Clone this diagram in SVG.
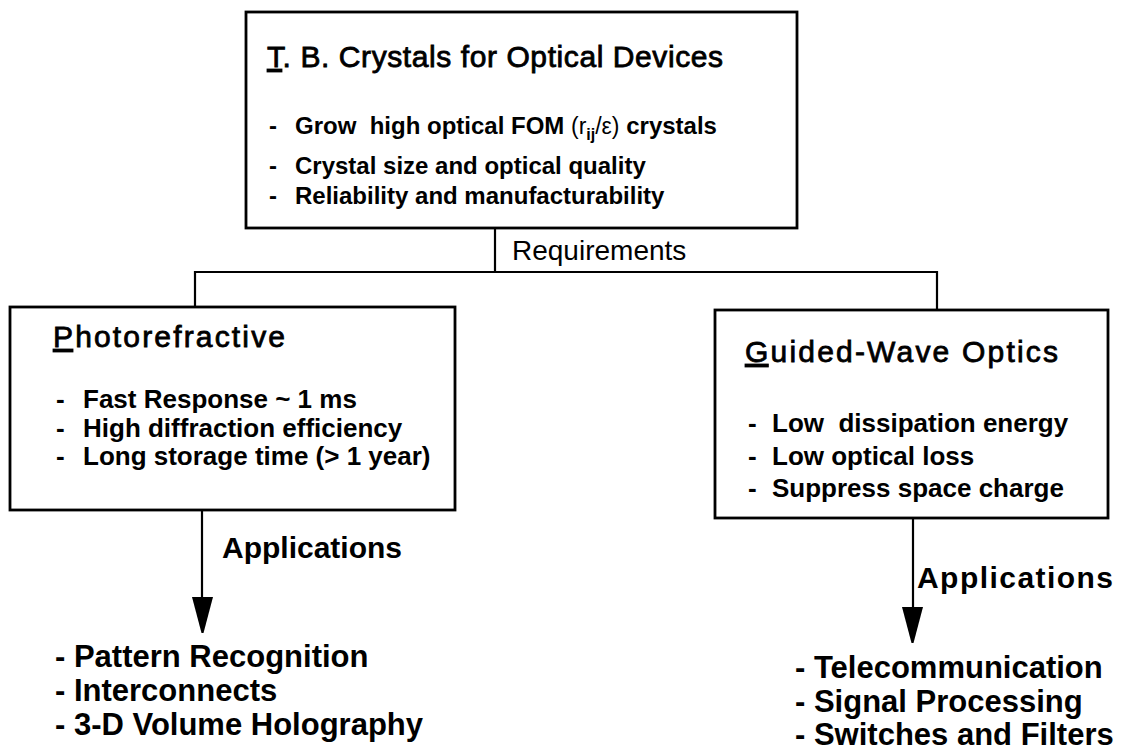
<svg xmlns="http://www.w3.org/2000/svg" width="1128" height="751" viewBox="0 0 1128 751">
<style>
  text { font-family: "Liberation Sans", Arial, Helvetica, sans-serif; fill: #000; white-space: pre; }
  .title { font-size: 30px; font-weight: normal; stroke: #000; stroke-width: 0.8px; }
  .b24 { font-size: 24px; font-weight: bold; }
  .b26 { font-size: 26px; font-weight: bold; }
  .lab { font-size: 30px; font-weight: bold; }
  .req { font-size: 28px; }
  .list { font-size: 31px; font-weight: bold; }
  .thin { font-weight: normal; font-size: 23px; }
  .box { fill: #fff; stroke: #000; stroke-width: 2.8; }
  .conn { fill: none; stroke: #000; stroke-width: 2.2; }
  .head { fill: #000; }
</style>
<rect width="1128" height="751" fill="#fff"/>

<g id="connectors">
  <line class="conn" x1="495" y1="228" x2="495" y2="272"/>
  <polyline class="conn" points="195,307 195,272 937,272 937,310"/>
  <line class="conn" x1="202" y1="510" x2="202" y2="598"/>
  <path class="head" d="M192,597 L213,597 L203.5,633 L201.5,633 Z"/>
  <line class="conn" x1="913" y1="518" x2="913" y2="608"/>
  <path class="head" d="M902,607 L923,607 L913.5,643 L911.5,643 Z"/>
  <text class="req" x="512" y="260">Requirements</text>
  <text class="lab" x="222" y="558">Applications</text>
  <text class="lab" x="917" y="588" textLength="196">Applications</text>
</g>

<g id="node-top">
  <rect class="box" x="246" y="12" width="551" height="216"/>
  <text class="title" x="267" y="67" textLength="456"><tspan text-decoration="underline">T</tspan>. B. Crystals for Optical Devices</text>
  <text class="b24" x="269" y="134">-<tspan x="295">Grow  high optical FOM </tspan><tspan class="thin">(r</tspan><tspan font-size="16" dy="6">ij</tspan><tspan class="thin" dy="-6">/ε)</tspan> crystals</text>
  <text class="b24" x="269" y="174">-<tspan x="295">Crystal size and optical quality</tspan></text>
  <text class="b24" x="269" y="204">-<tspan x="295">Reliability and manufacturability</tspan></text>
</g>

<g id="node-photorefractive">
  <rect class="box" x="10" y="307" width="445" height="203"/>
  <text class="title" x="53" y="347" textLength="232"><tspan text-decoration="underline">P</tspan>hotorefractive</text>
  <text class="b26" x="56" y="408">-<tspan x="83">Fast Response ~ 1 ms</tspan></text>
  <text class="b26" x="56" y="437">-<tspan x="83">High diffraction efficiency</tspan></text>
  <text class="b26" x="56" y="465">-<tspan x="83">Long storage time (&gt; 1 year)</tspan></text>
</g>

<g id="node-guided">
  <rect class="box" x="715" y="310" width="393" height="208"/>
  <text class="title" x="745" y="362" textLength="313"><tspan text-decoration="underline">G</tspan>uided-Wave Optics</text>
  <text class="b26" x="748" y="432">-<tspan x="772">Low  dissipation energy</tspan></text>
  <text class="b26" x="748" y="465">-<tspan x="772">Low optical loss</tspan></text>
  <text class="b26" x="748" y="497">-<tspan x="772">Suppress space charge</tspan></text>
</g>

<g id="list-left">
  <text class="list" x="55" y="667">- Pattern Recognition</text>
  <text class="list" x="55" y="701">- Interconnects</text>
  <text class="list" x="55" y="735">- 3-D Volume Holography</text>
</g>

<g id="list-right">
  <text class="list" x="795" y="678">- Telecommunication</text>
  <text class="list" x="795" y="712">- Signal Processing</text>
  <text class="list" x="795" y="745">- Switches and Filters</text>
</g>
</svg>
